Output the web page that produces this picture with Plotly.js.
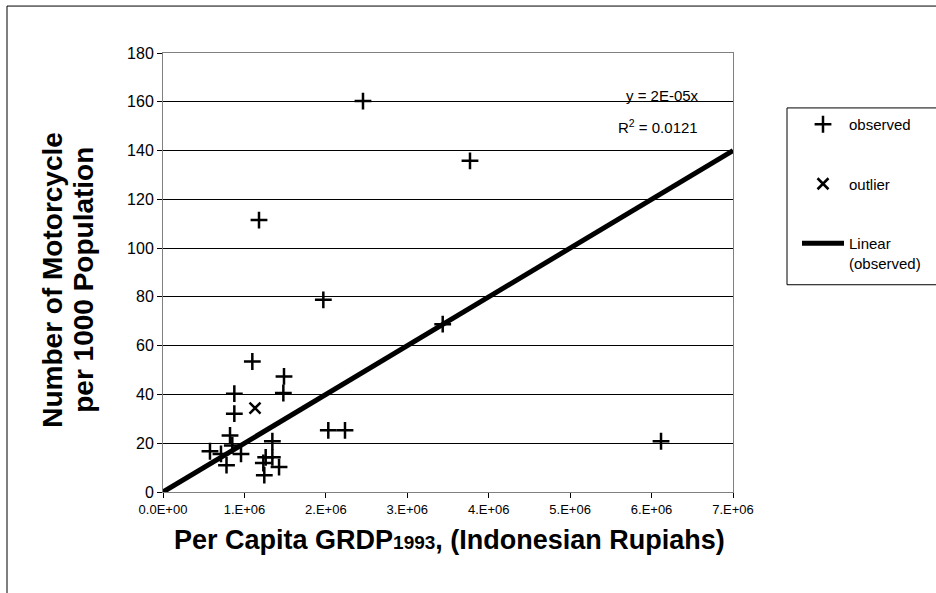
<!DOCTYPE html>
<html>
<head>
<meta charset="utf-8">
<script src="https://cdn.plot.ly/plotly-3.0.1.min.js"></script>
<style>html,body{margin:0;padding:0;background:#fff;}#chart{width:936px;height:593px;}</style>
</head>
<body>
<div id="chart"></div>
<script>
// Data
const observedX = [2.456e6, 3.77e6, 1.179e6, 1.969e6, 3.435e6, 1.097e6, 1.486e6, 1.478e6, 0.876e6, 0.876e6,
                   0.823e6, 0.851e6, 0.577e6, 0.712e6, 0.958e6, 0.78e6, 1.343e6, 1.261e6, 1.343e6, 1.232e6,
                   1.425e6, 1.244e6, 2.03e6, 2.235e6, 6.116e6];
const observedY = [160.3, 135.8, 111.5, 78.8, 68.8, 53.5, 47.4, 40.6, 40.3, 32.1,
                   23.2, 19.1, 16.7, 15.6, 15.6, 11.0, 20.8, 14.2, 14.2, 11.9,
                   10.2, 6.9, 25.3, 25.3, 20.8];
const outlierX = [1.13e6];
const outlierY = [34.4];
const trendSlope = 2e-5;
const trendX = [0, 7e6];
const trendY = trendX.map(v => v * trendSlope);
const xTickVals = [0, 1e6, 2e6, 3e6, 4e6, 5e6, 6e6, 7e6];
const xTickText = ["0.0E+00", "1.E+06", "2.E+06", "3.E+06", "4.E+06", "5.E+06", "6.E+06", "7.E+06"];
const yTickVals = [0, 20, 40, 60, 80, 100, 120, 140, 160, 180];

const FONT = "Liberation Sans, Arial, sans-serif";

const traces = [
  {
    x: observedX, y: observedY, type: "scatter", mode: "markers", name: "observed",
    legendgroup: "a",
    marker: {symbol: "cross-thin", size: 12, color: "#000", line: {color: "#000", width: 2.5}}
  },
  {
    x: outlierX, y: outlierY, type: "scatter", mode: "markers", name: "outlier",
    legendgroup: "b",
    marker: {symbol: "x-thin", size: 11, color: "#000", line: {color: "#000", width: 2.5}}
  },
  {
    x: trendX, y: trendY, type: "scatter", mode: "lines", name: "Linear<br>(observed)",
    legendgroup: "c",
    line: {color: "#000", width: 5}
  }
];

const W = 936, H = 593;
const L = 163, R = 733, T = 53, B = 492.5;
const PW = R - L, PH = B - T;
const px = v => (v - L) / PW;
const py = v => (B - v) / PH;

const layout = {
  width: W, height: H,
  margin: {l: L, r: W - R, t: T, b: H - B, pad: 0, autoexpand: false},
  paper_bgcolor: "#fff", plot_bgcolor: "#fff",
  font: {family: FONT, color: "#000"},
  showlegend: true,
  legend: {
    xref: "container", yref: "container",
    x: 797 / W, y: 1 - 108 / H, xanchor: "left", yanchor: "top",
    borderwidth: 0, bgcolor: "rgba(0,0,0,0)",
    font: {family: FONT, size: 15, color: "#000"},
    tracegroupgap: 37, traceorder: "grouped", valign: "top",
    itemwidth: 42
  },
  xaxis: {
    range: [0, 7e6], tickvals: xTickVals, ticktext: xTickText,
    ticks: "outside", ticklen: 5, tickcolor: "#000",
    showgrid: false, zeroline: false, automargin: false,
    showline: true, linecolor: "#808080", linewidth: 1, mirror: true,
    tickfont: {family: FONT, size: 13, color: "#000"}
  },
  yaxis: {
    range: [0, 180], tickvals: yTickVals,
    ticks: "outside", ticklen: 5, tickcolor: "#000",
    showgrid: true, gridcolor: "#000", gridwidth: 1, zeroline: false, automargin: false,
    showline: true, linecolor: "#808080", linewidth: 1, mirror: true,
    tickfont: {family: FONT, size: 16, color: "#000"}
  },
  annotations: [
    {xref: "paper", yref: "paper", x: px(449), y: py(541), xanchor: "center", yanchor: "middle",
     text: "<b>Per Capita GRDP<span style=\"font-size:19px\">1993</span>, (Indonesian Rupiahs)</b>",
     showarrow: false, font: {family: FONT, size: 27, color: "#000"}},
    {xref: "paper", yref: "paper", x: px(53), y: py(280), xanchor: "center", yanchor: "middle",
     textangle: -90, text: "<b>Number of Motorcycle</b>",
     showarrow: false, font: {family: FONT, size: 28, color: "#000"}},
    {xref: "paper", yref: "paper", x: px(84), y: py(280), xanchor: "center", yanchor: "middle",
     textangle: -90, text: "<b>per 1000 Population</b>",
     showarrow: false, font: {family: FONT, size: 28, color: "#000"}},
    {xref: "paper", yref: "paper", x: px(662), y: py(96), xanchor: "center", yanchor: "middle",
     text: "y = 2E-05x", showarrow: false, font: {family: FONT, size: 15, color: "#000"}},
    {xref: "paper", yref: "paper", x: px(658), y: py(127), xanchor: "center", yanchor: "middle",
     text: "R<sup>2</sup> = 0.0121", showarrow: false, font: {family: FONT, size: 15, color: "#000"}}
  ],
  shapes: [
    {type: "rect", xref: "paper", yref: "paper", x0: px(7), x1: px(945), y0: py(605), y1: py(6),
     line: {color: "#000", width: 1}, fillcolor: "rgba(0,0,0,0)", layer: "below"},
    {type: "rect", xref: "paper", yref: "paper", x0: px(787), x1: px(945), y0: py(285), y1: py(108),
     line: {color: "#000", width: 1}, fillcolor: "rgba(0,0,0,0)", layer: "below"}
  ]
};

Plotly.newPlot("chart", traces, layout, {displayModeBar: false, staticPlot: true});
</script>
</body>
</html>
